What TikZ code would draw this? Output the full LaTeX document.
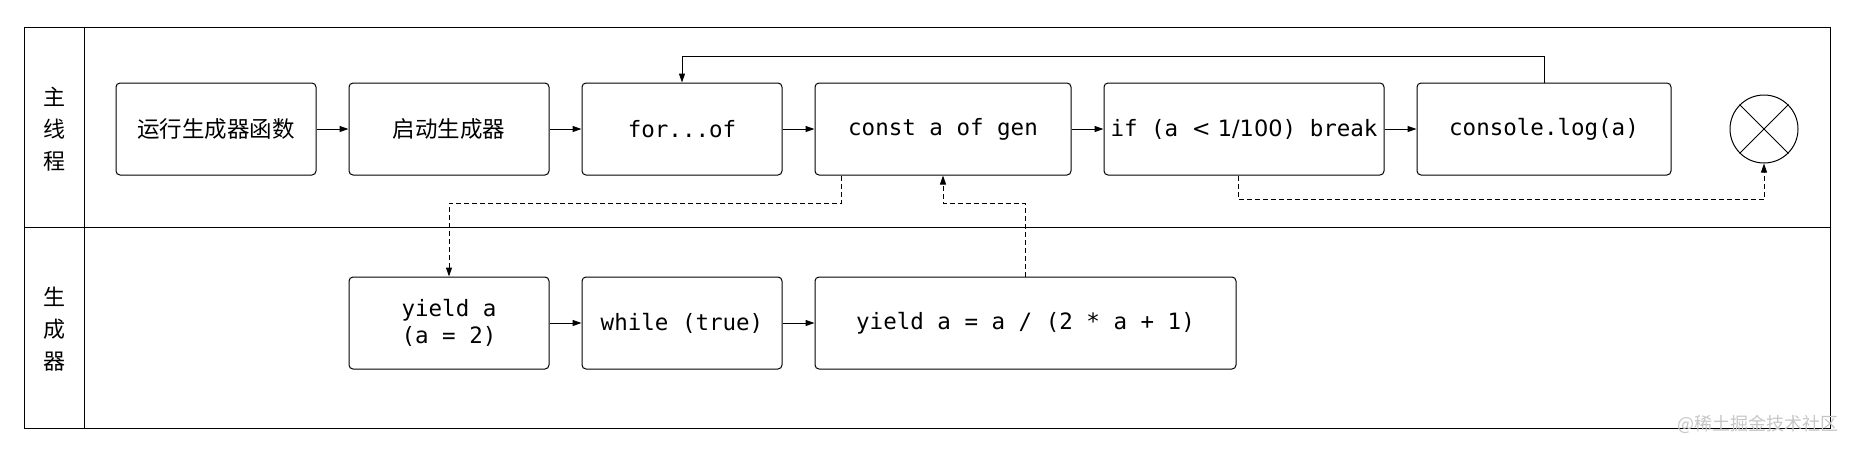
\documentclass[tikz,border=0pt]{standalone}
\usepackage{fontspec}
\setmonofont{DejaVu Sans Mono}
\newfontfamily\cjk{Noto Sans CJK SC}
\newfontfamily\plain{DejaVu Sans}
\usetikzlibrary{arrows.meta, positioning}
\tikzset{
    box/.style={draw, rounded corners=4pt, line width=1pt, minimum height=92pt,
        minimum width=200pt, inner sep=0pt, align=center,
        font=\fontsize{22.5}{27}\selectfont\ttfamily},
    flow/.style={-{Triangle[length=9pt, width=6pt]}, line width=1pt},
    jump/.style={flow, dash pattern=on 5pt off 3pt},
    lane/.style={align=center, font=\fontsize{22}{32}\selectfont\cjk}
}

\begin{document}
\begin{tikzpicture}[x=1pt, y=-1pt]
        \useasboundingbox (0,0) rectangle (1855,451);

        % swimlanes
        \draw[line width=1pt] (24.5,27.5) rectangle (1830,428);
        \draw[line width=1pt] (24.5,227.5) -- (1830,227.5);
        \draw[line width=1pt] (84,27.5) -- (84,428);
        \node (mainlane) [lane] at (54,129) {主\\线\\程};
        \node (genlane) [lane] at (54,329) {生\\成\\器};

        % main thread
        \node (b1) [box] at (216,129) {\cjk 运行生成器函数};
        \node (b2) [box, right = 32pt of b1] {\cjk 启动生成器};
        \node (b3) [box, right = 32pt of b2] {for...of};
        \node (b4) [box, right = 32pt of b3, minimum width=256pt] {const a of gen};
        \node (b5) [box, right = 32pt of b4, minimum width=280pt] {if (a {\plain< 1/100}) break};
        \node (b6) [box, right = 32pt of b5, minimum width=254pt] {console.log(a)};
        \node (end) [draw, circle, line width=1pt, minimum size=68pt, inner sep=0pt] at (1764,129) {};
        \draw[line width=1pt] (end.45) -- (end.225) (end.135) -- (end.315);

        % generator
        \node (c1) [box, below = 101pt of b2] {yield a\\(a = 2)};
        \node (c2) [box, right = 32pt of c1] {while (true)};
        \node (c3) [box, right = 32pt of c2, minimum width=421pt] {yield a = a / (2 * a + 1)};

        \node (mark) [anchor=east, text=gray!45, font=\fontsize{18}{18}\selectfont\cjk] at (1842,424) {@稀土掘金技术社区};

        \coordinate (top) at (0,56);
        \coordinate (gap) at (0,203);
        \coordinate (low) at (0,199);
        \coordinate (send) at ([xshift=27pt]b4.south west);
        \coordinate (stop) at ([xshift=-6pt]b5.south);

        \draw[flow] (b1) -- (b2);
        \draw[flow] (b2) -- (b3);
        \draw[flow] (b3) -- (b4);
        \draw[flow] (b4) -- (b5);
        \draw[flow] (b5) -- (b6);
        \draw[flow] (c1) -- (c2);
        \draw[flow] (c2) -- (c3);
        \draw[flow] (b6.north) -- (b6.north |- top) -| (b3.north);
        \draw[jump] (send) -- (send |- gap) -| (c1.north);
        \draw[jump] (c3.north) -- (c3.north |- gap) -| (b4.south);
        \draw[jump] (stop) -- (stop |- low) -| (end.south);
    \end{tikzpicture}
\end{document}
